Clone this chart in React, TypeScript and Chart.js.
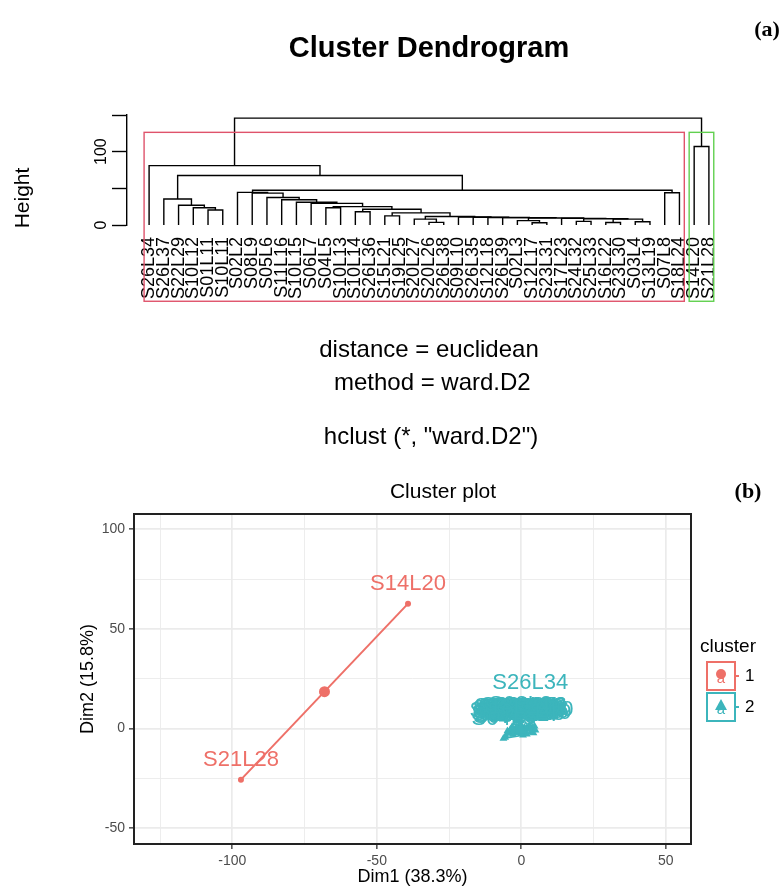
import React, { useEffect, useRef } from 'react';
import { Chart, registerables } from 'chart.js';

Chart.register(...registerables);

const SANS = '"Liberation Sans", Arial, Helvetica, sans-serif';
const SERIF = '"Liberation Serif", "Times New Roman", serif';

// ---------------- (a) Cluster dendrogram data ----------------
const leafLabels = [
  'S26L34', 'S26L37', 'S22L29', 'S10L12', 'S01L11', 'S10L11', 'S02L2', 'S08L9', 'S05L6', 'S11L16',
  'S10L15', 'S06L7', 'S04L5', 'S10L13', 'S10L14', 'S26L36', 'S15L21', 'S19L25', 'S20L27', 'S20L26',
  'S26L38', 'S09L10', 'S26L35', 'S12L18', 'S26L39', 'S02L3', 'S12L17', 'S23L31', 'S17L23', 'S24L32',
  'S25L33', 'S16L22', 'S23L30', 'S03L4', 'S13L19', 'S07L8', 'S18L24', 'S14L20', 'S21L28',
];
// R-style merge table: negative = leaf -(index+1), positive = earlier merge (1-based)
const mergeLeft = [-5, -4, -3, -2, -36, -38, -32, -34, 7, -30, 10, -29, -27, -26, 14, -25, -24, -23, -22, -20, -19, 21, -17, 23, -15, 25, -13, 27, -12, -11, -10, -9, -8, -7, 34, 4, -1, 37];
const mergeRight = [-6, 1, 2, 3, -37, -39, -33, -35, 8, -31, 9, 11, -28, 13, 12, 15, 16, 17, 18, -21, 20, 19, -18, 22, -16, 24, -14, 26, 28, 29, 30, 31, 32, 33, 5, 35, 36, 6];
const mergeHeight = [20.5, 23.5, 27, 35.5, 44, 107, 3.5, 4.5, 8, 5, 8.5, 9, 3, 6, 9.5, 10, 10.2, 10.5, 11, 3.6, 8, 11.5, 12.5, 16.5, 18, 21.5, 23.5, 25, 29.5, 31, 34.5, 37.5, 43.5, 44.5, 47.4, 67.4, 81, 145.7];
const heightTicks = [0, 50, 100, 150];
const heightTickLabels = ['0', '', '100', ''];
const clusterSizes = [37, 2];
const rectColors = ['#DF536B', '#61D04F'];
const usrBottom = -104;
const dendroSubLines = ['distance = euclidean', ' method = ward.D2', 'hclust (*, "ward.D2")'];

// ---------------- (b) Cluster plot data ----------------
const c1Labels = ['S14L20', 'S21L28'];
const c1Dim1 = [-39.2, -97.0];
const c1Dim2 = [62.7, -25.6];
const c2Labels = leafLabels.slice(0, 37);
const c2Dim1 = [3.1, -2.1, -3.5, -1.2, -0.5, 0.3, 4.6, 3.8, -5.4, 2.9, -4.2, 1.8, -6.2, 2.2, -2.9, 0.8, 1.1, -1.6, -0.9, 0.1, 1.5, 4.9, 3.4, -3.8, 2.6, -0.3, 0.6, -4.8, 1.9, -1.8, 3.1, -2.6, 0.4, -0.7, 4.2, -5.6, -3.2];
const c2Dim2 = [13.0, -0.8, -1.6, 0.4, -0.2, 0.9, 1.2, 0.5, -3.6, 1.4, -2.5, 0.2, -5.0, -0.5, -3.0, -1.2, 0.6, -2.2, 1.2, -2.6, -1.9, -0.8, -1.5, -0.4, 0.9, 1.6, -3.3, -1.2, -2.8, 0.8, -0.2, -1.1, 0.1, -1.4, -2.2, -4.4, 1.0];
const dim1Ticks = [-125, -100, -75, -50, -25, 0, 25, 50];
const dim2Ticks = [-50, -25, 0, 25, 50, 75, 100];
const dim1Major = [-100, -50, 0, 50];
const dim2Major = [-50, 0, 50, 100];
const clusterNames = ['1', '2'];
const clusterColors = ['#EE7068', '#3CB5BC'];

// ---------------- helpers ----------------
function dendroDatasets() {
  const centers: number[] = [];
  const pos = (ref: number) =>
    ref < 0 ? { x: -ref - 1, h: 0 } : { x: centers[ref - 1], h: mergeHeight[ref - 1] };
  const ds: any[] = [];
  for (let i = 0; i < mergeHeight.length; i++) {
    const a = pos(mergeLeft[i]);
    const b = pos(mergeRight[i]);
    const H = mergeHeight[i];
    centers.push((a.x + b.x) / 2);
    ds.push({
      data: [
        { x: a.x, y: a.h },
        { x: a.x, y: H },
        { x: b.x, y: H },
        { x: b.x, y: b.h },
      ],
      showLine: true,
      borderColor: '#000',
      borderWidth: 1.4,
      pointRadius: 0,
      tension: 0,
      fill: false,
      clip: false,
    });
  }
  return ds;
}

function hull(pts: { x: number; y: number }[]) {
  const p = [...pts].sort((a, b) => (a.x === b.x ? a.y - b.y : a.x - b.x));
  const cross = (o: any, a: any, b: any) => (a.x - o.x) * (b.y - o.y) - (a.y - o.y) * (b.x - o.x);
  const lower: any[] = [];
  for (const q of p) {
    while (lower.length >= 2 && cross(lower[lower.length - 2], lower[lower.length - 1], q) <= 0) lower.pop();
    lower.push(q);
  }
  const upper: any[] = [];
  for (let i = p.length - 1; i >= 0; i--) {
    const q = p[i];
    while (upper.length >= 2 && cross(upper[upper.length - 2], upper[upper.length - 1], q) <= 0) upper.pop();
    upper.push(q);
  }
  const h = lower.slice(0, -1).concat(upper.slice(0, -1));
  return h.concat([h[0]]);
}

const mean = (a: number[]) => a.reduce((s, v) => s + v, 0) / a.length;

const dendroPlugin = {
  id: 'dendroDecor',
  afterDatasetsDraw(chart: any) {
    const { ctx, scales } = chart;
    const xs = scales.x;
    const ys = scales.y;
    const sorted = [...mergeHeight].sort((a, b) => b - a);
    const k = clusterSizes.length;
    const topH = (sorted[k - 2] + sorted[k - 1]) / 2;
    let m = 0;
    ctx.save();
    ctx.lineWidth = 1.4;
    clusterSizes.forEach((size, i) => {
      const x0 = xs.getPixelForValue(m - 0.34);
      const x1 = xs.getPixelForValue(m + size - 0.67);
      const y0 = ys.getPixelForValue(topH);
      const y1 = ys.getPixelForValue(usrBottom);
      ctx.strokeStyle = rectColors[i];
      ctx.strokeRect(x0, y0, x1 - x0, y1 - y0);
      m += size;
    });
    ctx.restore();
  },
  afterDraw(chart: any) {
    const { ctx, chartArea: a, scales } = chart;
    const ys = scales.y;
    const cx = (a.left + a.right) / 2;
    ctx.save();
    ctx.fillStyle = '#000';
    // title
    ctx.font = `bold 29px ${SANS}`;
    ctx.textAlign = 'center';
    ctx.textBaseline = 'alphabetic';
    ctx.fillText('Cluster Dendrogram', cx, 57);
    // y tick labels (rotated, R style)
    ctx.font = `16px ${SANS}`;
    heightTicks.forEach((v, i) => {
      if (!heightTickLabels[i]) return;
      ctx.save();
      ctx.translate(a.left - 21, ys.getPixelForValue(v));
      ctx.rotate(-Math.PI / 2);
      ctx.textAlign = 'center';
      ctx.textBaseline = 'alphabetic';
      ctx.fillText(heightTickLabels[i], 0, 0);
      ctx.restore();
    });
    // y title
    ctx.save();
    ctx.font = `21px ${SANS}`;
    ctx.translate(23, 198);
    ctx.rotate(-Math.PI / 2);
    ctx.textAlign = 'center';
    ctx.textBaseline = 'middle';
    ctx.fillText('Height', 0, 0);
    ctx.restore();
    // sub lines
    ctx.font = `24px ${SANS}`;
    ctx.textAlign = 'center';
    ctx.textBaseline = 'middle';
    ctx.fillText(dendroSubLines[0], cx, 350);
    ctx.fillText(dendroSubLines[1], cx, 383);
    ctx.fillText(dendroSubLines[2], cx + 2, 437);
    // panel tag
    ctx.font = `bold 22px ${SERIF}`;
    ctx.fillText('(a)', 767, 30);
    ctx.restore();
  },
};

const clusterPlugin = {
  id: 'clusterDecor',
  afterDatasetsDraw(chart: any) {
    const { ctx, chartArea: a, scales } = chart;
    const xs = scales.x;
    const ys = scales.y;
    ctx.save();
    ctx.font = `22px ${SANS}`;
    ctx.textAlign = 'center';
    ctx.textBaseline = 'middle';
    const groups: [string[], number[], number[]][] = [
      [c1Labels, c1Dim1, c1Dim2],
      [c2Labels, c2Dim1, c2Dim2],
    ];
    groups.forEach(([labs, X, Y], gi) => {
      ctx.fillStyle = clusterColors[gi];
      labs.forEach((l, i) => {
        ctx.fillText(l, xs.getPixelForValue(X[i]), ys.getPixelForValue(Y[i]) - 20);
      });
    });
    ctx.strokeStyle = '#222';
    ctx.lineWidth = 2;
    ctx.strokeRect(a.left, a.top, a.right - a.left, a.bottom - a.top);
    ctx.restore();
  },
  afterDraw(chart: any) {
    const { ctx, chartArea: a } = chart;
    const pcx = (a.left + a.right) / 2;
    const pcy = (a.top + a.bottom) / 2;
    ctx.save();
    ctx.fillStyle = '#000';
    ctx.textAlign = 'center';
    ctx.textBaseline = 'middle';
    ctx.font = `21px ${SANS}`;
    ctx.fillText('Cluster plot', 443, 32);
    ctx.font = `bold 22px ${SERIF}`;
    ctx.fillText('(b)', 748, 32);
    ctx.font = `18px ${SANS}`;
    ctx.fillText('Dim1 (38.3%)', pcx, a.bottom + 33);
    ctx.save();
    ctx.translate(a.left - 46, pcy);
    ctx.rotate(-Math.PI / 2);
    ctx.fillText('Dim2 (15.8%)', 0, 0);
    ctx.restore();
    // legend
    const bx = a.right + 16;
    ctx.textAlign = 'left';
    ctx.font = `19px ${SANS}`;
    ctx.fillText('cluster', a.right + 9, pcy - 32);
    clusterNames.forEach((name, i) => {
      const top = pcy - 17 + i * 31;
      const col = clusterColors[i];
      const kx = bx + 14;
      const ky = top + 14;
      ctx.strokeStyle = col;
      ctx.lineWidth = 2;
      ctx.strokeRect(bx, top, 28, 28);
      ctx.beginPath();
      ctx.moveTo(bx + 28, ky);
      ctx.lineTo(bx + 32, ky);
      ctx.stroke();
      ctx.fillStyle = col;
      ctx.beginPath();
      if (i === 0) {
        ctx.arc(kx, ky - 2, 5, 0, Math.PI * 2);
      } else {
        ctx.moveTo(kx, ky - 8);
        ctx.lineTo(kx + 6, ky + 3);
        ctx.lineTo(kx - 6, ky + 3);
        ctx.closePath();
      }
      ctx.fill();
      ctx.font = `15px ${SANS}`;
      ctx.textAlign = 'center';
      ctx.fillText('a', kx, ky + 3);
      ctx.fillStyle = '#000';
      ctx.font = `17px ${SANS}`;
      ctx.textAlign = 'left';
      ctx.fillText(name, bx + 38, ky);
    });
    ctx.restore();
  },
};

function dendroConfig(): any {
  return {
    type: 'scatter',
    data: { datasets: dendroDatasets() },
    options: {
      animation: false,
      responsive: false,
      maintainAspectRatio: false,
      layout: { padding: { left: 87, right: 52, top: 115, bottom: 155 } },
      plugins: { legend: { display: false }, tooltip: { enabled: false }, title: { display: false } },
      scales: {
        x: {
          type: 'linear',
          min: -1.5,
          max: 39.5,
          afterBuildTicks: (s: any) => {
            s.ticks = leafLabels.map((_, i) => ({ value: i }));
          },
          afterFit: (s: any) => {
            s.height = 80;
          },
          grid: { display: false, drawTicks: false },
          border: { display: false },
          ticks: {
            autoSkip: false,
            minRotation: 90,
            maxRotation: 90,
            padding: 12,
            color: '#000',
            font: { family: SANS, size: 18 },
            callback: (v: any) => leafLabels[Math.round(Number(v))],
          },
        },
        y: {
          type: 'linear',
          min: 0,
          max: 150,
          afterBuildTicks: (s: any) => {
            s.ticks = heightTicks.map((v) => ({ value: v }));
          },
          afterFit: (s: any) => {
            s.width = 40;
          },
          grid: { drawOnChartArea: false, drawTicks: true, tickLength: 15, tickColor: '#000', tickWidth: 1.4 },
          border: { display: true, color: '#000', width: 1.4 },
          ticks: { display: false },
        },
      },
    },
    plugins: [dendroPlugin],
  };
}

function clusterConfig(): any {
  const p1 = c1Labels.map((_, i) => ({ x: c1Dim1[i], y: c1Dim2[i] }));
  const p2 = c2Labels.map((_, i) => ({ x: c2Dim1[i], y: c2Dim2[i] }));
  const isMajorX = (v: number) => dim1Major.includes(v);
  const isMajorY = (v: number) => dim2Major.includes(v);
  return {
    type: 'scatter',
    data: {
      datasets: [
        {
          data: p1,
          showLine: true,
          borderColor: clusterColors[0],
          backgroundColor: clusterColors[0],
          borderWidth: 2,
          pointRadius: 3,
          pointBorderWidth: 0,
          pointBackgroundColor: clusterColors[0],
          order: 4,
        },
        {
          data: hull(p2),
          showLine: true,
          fill: 'shape',
          borderColor: clusterColors[1],
          backgroundColor: 'rgba(60,181,188,0.2)',
          borderWidth: 1.6,
          pointRadius: 0,
          order: 5,
        },
        {
          data: p2,
          pointStyle: 'triangle',
          pointRadius: 4.5,
          pointBorderWidth: 0,
          pointBackgroundColor: clusterColors[1],
          order: 3,
        },
        {
          data: [{ x: mean(c1Dim1), y: mean(c1Dim2) }],
          pointRadius: 5.5,
          pointBorderWidth: 0,
          pointBackgroundColor: clusterColors[0],
          order: 2,
        },
        {
          data: [{ x: mean(c2Dim1), y: mean(c2Dim2) }],
          pointStyle: 'triangle',
          pointRadius: 7,
          pointBorderWidth: 0,
          pointBackgroundColor: clusterColors[1],
          order: 2,
        },
      ],
    },
    options: {
      animation: false,
      responsive: false,
      maintainAspectRatio: false,
      layout: { padding: { left: 94, right: 92, top: 54, bottom: 13 } },
      plugins: { legend: { display: false }, tooltip: { enabled: false }, title: { display: false } },
      scales: {
        x: {
          type: 'linear',
          min: -134,
          max: 58.7,
          afterBuildTicks: (s: any) => {
            s.ticks = dim1Ticks.map((v) => ({ value: v }));
          },
          afterFit: (s: any) => {
            s.height = 30;
          },
          grid: {
            color: '#EBEBEB',
            lineWidth: (c: any) => (isMajorX(c.tick?.value) ? 1.7 : 0.9),
            drawTicks: true,
            tickLength: 5,
            tickWidth: 1.3,
            tickColor: (c: any) => (isMajorX(c.tick?.value) ? '#333' : 'rgba(0,0,0,0)'),
          },
          border: { display: false },
          ticks: {
            autoSkip: false,
            maxRotation: 0,
            padding: 4,
            color: '#4D4D4D',
            font: { family: SANS, size: 14 },
            callback: (v: any) => (isMajorX(Number(v)) ? String(v) : ''),
          },
        },
        y: {
          type: 'linear',
          min: -57.9,
          max: 107.7,
          afterBuildTicks: (s: any) => {
            s.ticks = dim2Ticks.map((v) => ({ value: v }));
          },
          afterFit: (s: any) => {
            s.width = 40;
          },
          grid: {
            color: '#EBEBEB',
            lineWidth: (c: any) => (isMajorY(c.tick?.value) ? 1.7 : 0.9),
            drawTicks: true,
            tickLength: 5,
            tickWidth: 1.3,
            tickColor: (c: any) => (isMajorY(c.tick?.value) ? '#333' : 'rgba(0,0,0,0)'),
          },
          border: { display: false },
          ticks: {
            autoSkip: false,
            padding: 4,
            color: '#4D4D4D',
            font: { family: SANS, size: 14 },
            callback: (v: any) => (isMajorY(Number(v)) ? String(v) : ''),
          },
        },
      },
    },
    plugins: [clusterPlugin],
  };
}

export default function App() {
  const dRef = useRef<HTMLCanvasElement>(null);
  const cRef = useRef<HTMLCanvasElement>(null);
  useEffect(() => {
    const c1 = new Chart(dRef.current as HTMLCanvasElement, dendroConfig());
    const c2 = new Chart(cRef.current as HTMLCanvasElement, clusterConfig());
    return () => {
      c1.destroy();
      c2.destroy();
    };
  }, []);
  return (
    <div style={{ position: 'absolute', left: 0, top: 0, width: 783, height: 887, background: '#fff', overflow: 'hidden' }}>
      <canvas ref={dRef} width={783} height={460} style={{ position: 'absolute', left: 0, top: 0, width: 783, height: 460 }} />
      <canvas ref={cRef} width={783} height={427} style={{ position: 'absolute', left: 0, top: 460, width: 783, height: 427 }} />
    </div>
  );
}
